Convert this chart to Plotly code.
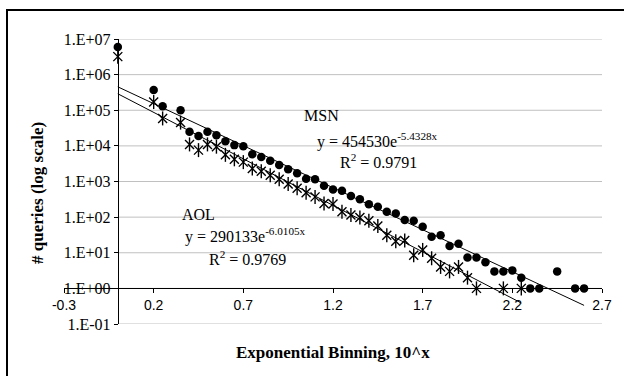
import numpy as np
import plotly.graph_objects as go

# ---------------- data ----------------
msn_x = [0.0, 0.2, 0.25, 0.35, 0.4, 0.45, 0.5, 0.55, 0.6, 0.65, 0.7, 0.75, 0.8, 0.85,
         0.9, 0.95, 1.0, 1.05, 1.1, 1.15, 1.2, 1.25, 1.3, 1.35, 1.4, 1.45, 1.5, 1.55,
         1.6, 1.65, 1.7, 1.75, 1.8, 1.85, 1.9, 1.95, 2.0, 2.05, 2.1, 2.15, 2.2, 2.25,
         2.3, 2.35, 2.45, 2.55, 2.6]
msn_y = [6.0e6, 3.7e5, 1.3e5, 1.0e5, 2.5e4, 1.9e4, 2.5e4, 2.0e4, 1.35e4, 1.05e4, 9.8e3,
         5.8e3, 4.9e3, 3.8e3, 2.9e3, 2.2e3, 1.7e3, 1.2e3, 1.15e3, 760, 600, 550, 390, 316,
         229, 195, 141, 126, 83, 79, 54, 28, 31, 15.5, 18, 7.4, 7.4, 5.4, 3, 3, 3.2, 2,
         1, 1, 3, 1, 1]

aol_x = [0.0, 0.2, 0.25, 0.35, 0.4, 0.45, 0.5, 0.55, 0.6, 0.65, 0.7, 0.75, 0.8, 0.85,
         0.9, 0.95, 1.0, 1.05, 1.1, 1.15, 1.2, 1.25, 1.3, 1.35, 1.4, 1.45, 1.5, 1.55,
         1.6, 1.65, 1.7, 1.75, 1.8, 1.85, 1.9, 1.95, 2.0, 2.15, 2.25]
aol_y = [3.2e6, 1.7e5, 5.9e4, 4.5e4, 1.1e4, 7.6e3, 1.1e4, 9.5e3, 5.6e3, 4.2e3, 3.5e3,
         2.3e3, 1.95e3, 1.5e3, 1.15e3, 850, 650, 480, 370, 240, 235, 141, 115, 98, 79,
         56, 31, 21, 22, 8.5, 12, 7, 4, 3, 4, 2, 1, 1, 1]

# exponential trendline coefficients shown on the chart
msn_a, msn_b = 454530, -5.4328
aol_a, aol_b = 290133, -6.0105

x_ticks = [-0.3, 0.2, 0.7, 1.2, 1.7, 2.2, 2.7]
x_tick_text = ["-0.3", "0.2", "0.7", "1.2", "1.7", "2.2", "2.7"]
y_ticks = [1e-1, 1e0, 1e1, 1e2, 1e3, 1e4, 1e5, 1e6, 1e7]
y_tick_text = ["1.E-01", "1.E+00", "1.E+01", "1.E+02", "1.E+03", "1.E+04",
               "1.E+05", "1.E+06", "1.E+07"]

# ---------------- layout geometry (pixels) ----------------
W, H = 624, 376
L, R, T, B = 64, 602, 39, 324
PW, PH = R - L, B - T


def px(xp):
    return (xp - L) / PW


def py(yp):
    return (B - yp) / PH


SERIF = "Liberation Serif, Times New Roman, serif"
SANS = "Liberation Sans, Arial, sans-serif"

fig = go.Figure()

# gridlines (from x=0 to the end of the axis)
gx, gy = [], []
for v in y_ticks:
    gx += [0.0, 2.7, None]
    gy += [v, v, None]
fig.add_trace(go.Scatter(x=gx, y=gy, mode="lines",
                         line=dict(color="#c0c0c0", width=1),
                         hoverinfo="skip", showlegend=False))

# trendlines
mx = np.array(msn_x)
ax_ = np.array(aol_x)
fig.add_trace(go.Scatter(x=mx, y=msn_a * np.exp(msn_b * mx), mode="lines",
                         line=dict(color="black", width=1), showlegend=False))
fig.add_trace(go.Scatter(x=ax_, y=aol_a * np.exp(aol_b * ax_), mode="lines",
                         line=dict(color="black", width=1), showlegend=False))

# MSN: filled circles
fig.add_trace(go.Scatter(x=msn_x, y=msn_y, mode="markers", name="MSN",
                         marker=dict(symbol="circle", size=8.5, color="black"),
                         showlegend=False))
# AOL: asterisk (X + vertical bar)
fig.add_trace(go.Scatter(x=aol_x, y=aol_y, mode="markers", name="AOL",
                         marker=dict(symbol="x-thin-open", size=9, color="black",
                                     line=dict(color="black", width=1.4)),
                         showlegend=False))
fig.add_trace(go.Scatter(x=aol_x, y=aol_y, mode="markers", name="AOL",
                         marker=dict(symbol="line-ns-open", size=10, color="black",
                                     line=dict(color="black", width=1.4)),
                         showlegend=False, hoverinfo="skip"))

fig.update_layout(
    width=W, height=H,
    margin=dict(l=L, r=W - R, t=T, b=H - B, pad=0),
    paper_bgcolor="white", plot_bgcolor="white",
    showlegend=False,
    xaxis=dict(range=[-0.3, 2.7], tickvals=x_ticks, ticktext=x_tick_text,
               showgrid=False, zeroline=False, showline=True, linecolor="black",
               linewidth=1, ticks="outside", ticklen=4, tickcolor="black",
               anchor="free", position=0.125,
               tickfont=dict(family=SANS, size=14, color="black")),
    yaxis=dict(type="log", range=[-1, 7], tickvals=y_ticks, ticktext=y_tick_text,
               showgrid=False, zeroline=False, showline=True, linecolor="black",
               linewidth=1, ticks="outside", ticklen=4, tickcolor="black",
               anchor="free", position=0.1,
               tickfont=dict(family=SERIF, size=16, color="black")),
)

# outer frame (cut off at right/bottom like the reference)
fig.add_shape(type="rect", xref="paper", yref="paper",
              x0=px(7), x1=px(640), y0=py(390), y1=py(10),
              line=dict(color="black", width=2), fillcolor="rgba(0,0,0,0)")

ann_font = dict(family=SERIF, size=16, color="black")
texts = [
    ("MSN", 302, 115),
    ("y = 454530e<sup>-5.4328x</sup>", 315, 140),
    ("R<sup>2</sup> = 0.9791", 338, 161),
    ("AOL", 180, 215),
    ("y = 290133e<sup>-6.0105x</sup>", 183, 236),
    ("R<sup>2</sup> = 0.9769", 207, 258),
]
for t, xp, yp in texts:
    fig.add_annotation(text=t, xref="paper", yref="paper", x=px(xp), y=py(yp),
                       xanchor="left", yanchor="middle", showarrow=False,
                       font=ann_font)

fig.add_annotation(text="<b>Exponential Binning, 10^x</b>", xref="paper", yref="paper",
                   x=px(333), y=py(352), xanchor="center", yanchor="middle",
                   showarrow=False, font=dict(family=SERIF, size=17, color="black"))
fig.add_annotation(text="<b># queries (log scale)</b>", xref="paper", yref="paper",
                   x=px(37), y=py(193), xanchor="center", yanchor="middle",
                   textangle=-90, showarrow=False,
                   font=dict(family=SERIF, size=17, color="black"))

fig.write_html("out.html",
               config={"displayModeBar": False},
               post_script="document.body.style.margin='0';"
                           "document.body.style.overflow='hidden';")
